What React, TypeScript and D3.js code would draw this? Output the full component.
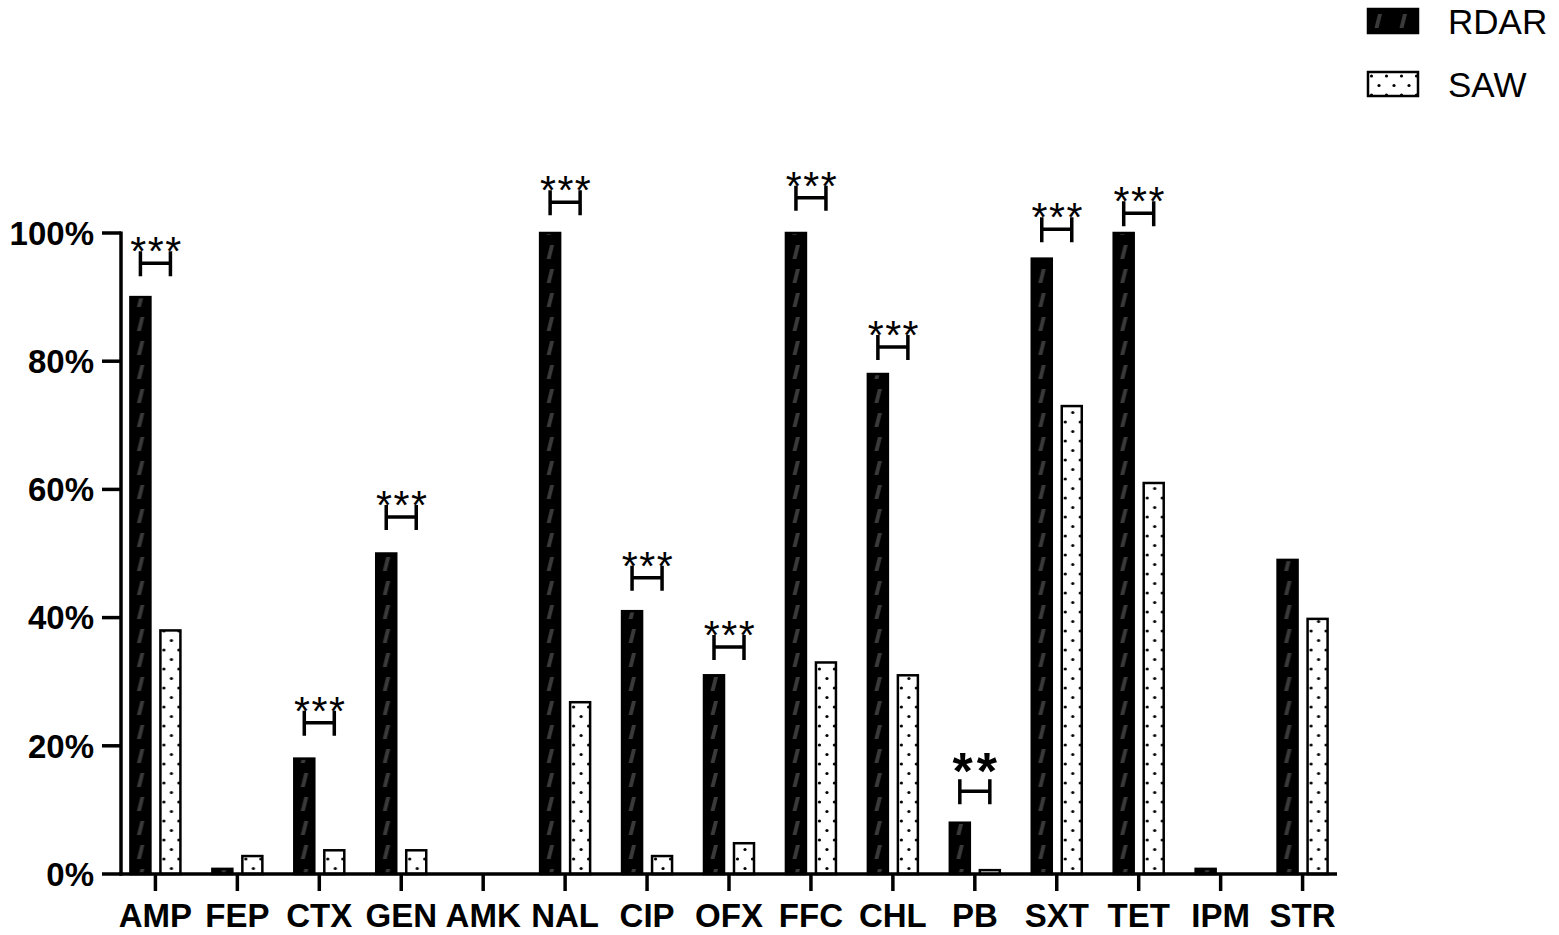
import React, { useEffect, useRef } from 'react';
import * as d3 from 'd3';

// antibiotics on the x axis
const drugs = ['AMP', 'FEP', 'CTX', 'GEN', 'AMK', 'NAL', 'CIP', 'OFX', 'FFC', 'CHL', 'PB', 'SXT', 'TET', 'IPM', 'STR'];
// resistance rates (%)
const rdar = [90, 0.8, 18, 50, 0, 100, 41, 31, 100, 78, 8, 96, 100, 0.8, 49];
const saw = [38, 2.8, 3.7, 3.7, 0, 26.8, 2.8, 4.8, 33, 31, 0.6, 73, 61, 0, 39.8];
const yTicks = [0, 20, 40, 60, 80, 100];

// significance brackets
const sigDrugs = ['AMP', 'CTX', 'GEN', 'NAL', 'CIP', 'OFX', 'FFC', 'CHL', 'PB', 'SXT', 'TET'];
const sigLevels = [95.3, 23.6, 55.7, 104.8, 46.2, 35.4, 105.5, 82.2, 12.9, 100.6, 103.1];
const sigLabels = ['***', '***', '***', '***', '***', '***', '***', '***', '**', '***', '***'];

const seriesNames = ['RDAR', 'SAW'];

export default function App() {
  const svgRef = useRef<SVGSVGElement>(null);

  useEffect(() => {
    const W = 1559;
    const H = 935;
    const left = 121;
    const right = 1337;
    const top = 233;
    const bottom = 874;
    const font = 'Arial, "Liberation Sans", sans-serif';

    const svg = d3.select(svgRef.current)
      .attr('width', W)
      .attr('height', H);
    svg.selectAll('*').remove();

    const defs = svg.append('defs');
    // dark bars: black with grey slashes
    const pr = defs.append('pattern')
      .attr('id', 'pat-rdar')
      .attr('patternUnits', 'userSpaceOnUse')
      .attr('width', 25).attr('height', 24);
    pr.append('rect').attr('width', 25).attr('height', 24).attr('fill', '#000');
    pr.append('polygon').attr('points', '6.5,19 10.5,19 14,5 10,5').attr('fill', '#3a3a3a');
    // light bars: white with dots
    const ps = defs.append('pattern')
      .attr('id', 'pat-saw')
      .attr('patternUnits', 'userSpaceOnUse')
      .attr('width', 15).attr('height', 19);
    ps.append('rect').attr('width', 15).attr('height', 19).attr('fill', '#fff');
    ps.append('circle').attr('cx', 3.5).attr('cy', 4).attr('r', 1.6).attr('fill', '#000');
    ps.append('circle').attr('cx', 11).attr('cy', 13.5).attr('r', 1.6).attr('fill', '#000');

    const x = d3.scalePoint<string>()
      .domain(drugs)
      .range([left, right])
      .padding(0.42);
    const y = d3.scaleLinear()
      .domain([0, 100])
      .range([bottom, top]);

    const barW = 20;
    const gap = 5;

    // bars
    const groups = [rdar, saw];
    groups.forEach((vals, si) => {
      svg.append('g')
        .selectAll('g')
        .data(vals.map((v, i) => ({ v, d: drugs[i] })).filter(o => o.v > 0))
        .join('g')
          .attr('transform', o => {
            const cx = x(o.d)!;
            const bx = si === 0 ? cx - gap - barW : cx + gap;
            return `translate(${bx},0)`;
          })
        .append('rect')
          .attr('x', 0)
          .attr('y', o => y(o.v))
          .attr('width', barW)
          .attr('height', o => bottom - y(o.v))
          .attr('fill', si === 0 ? 'url(#pat-rdar)' : 'url(#pat-saw)')
          .attr('stroke', '#000')
          .attr('stroke-width', 2.5);
    });

    // y axis
    const yAxis = svg.append('g');
    yAxis.append('line')
      .attr('x1', left).attr('x2', left)
      .attr('y1', top - 1.5).attr('y2', bottom + 1.5)
      .attr('stroke', '#000').attr('stroke-width', 3.5);
    yAxis.selectAll('.yt')
      .data(yTicks)
      .join('line')
        .attr('x1', left - 19).attr('x2', left)
        .attr('y1', d => y(d)).attr('y2', d => y(d))
        .attr('stroke', '#000').attr('stroke-width', 3.5);
    yAxis.selectAll('text')
      .data(yTicks)
      .join('text')
        .attr('x', 94)
        .attr('y', d => y(d))
        .attr('dy', '0.36em')
        .attr('text-anchor', 'end')
        .attr('font-family', font)
        .attr('font-weight', 'bold')
        .attr('font-size', 33)
        .text(d => d + '%');

    // x axis
    const xAxis = svg.append('g');
    xAxis.append('line')
      .attr('x1', left - 1.5).attr('x2', right)
      .attr('y1', bottom).attr('y2', bottom)
      .attr('stroke', '#000').attr('stroke-width', 3.5);
    xAxis.selectAll('.xt')
      .data(drugs)
      .join('line')
        .attr('x1', d => x(d)!).attr('x2', d => x(d)!)
        .attr('y1', bottom).attr('y2', bottom + 17)
        .attr('stroke', '#000').attr('stroke-width', 3.5);
    xAxis.selectAll('text')
      .data(drugs)
      .join('text')
        .attr('x', d => x(d)!)
        .attr('y', 927)
        .attr('text-anchor', 'middle')
        .attr('font-family', font)
        .attr('font-weight', 'bold')
        .attr('font-size', 33)
        .text(d => d);

    // significance brackets
    const sig = svg.append('g')
      .selectAll('g')
      .data(sigDrugs.map((d, i) => ({ d, lv: sigLevels[i], lab: sigLabels[i] })))
      .join('g');
    sig.each(function (o) {
      const g = d3.select(this);
      const cx = x(o.d)!;
      const x1 = cx - gap - barW / 2;
      const x2 = cx + gap + barW / 2;
      const yy = y(o.lv);
      g.append('path')
        .attr('d', `M${x1},${yy - 12}V${yy + 13}M${x1},${yy}H${x2}M${x2},${yy - 12}V${yy + 13}`)
        .attr('fill', 'none')
        .attr('stroke', '#000')
        .attr('stroke-width', 3.5);
      const big = o.lab.length === 2;
      g.append('text')
        .attr('x', cx + (big ? 2 : 1))
        .attr('y', big ? yy - 2 : yy + 2)
        .attr('text-anchor', 'middle')
        .attr('font-family', font)
        .attr('font-weight', big ? 'bold' : 'normal')
        .attr('font-size', big ? 52 : 41)
        .attr('letter-spacing', big ? 4 : 1.5)
        .text(o.lab);
    });

    // legend
    const leg = svg.append('g')
      .selectAll('g')
      .data(seriesNames)
      .join('g')
        .attr('transform', (d, i) => `translate(1368,${9 + i * 63})`);
    leg.append('rect')
      .attr('width', 50).attr('height', 24)
      .attr('fill', (d, i) => i === 0 ? 'url(#pat-rdar)' : 'url(#pat-saw)')
      .attr('stroke', '#000').attr('stroke-width', 2.5);
    leg.append('text')
      .attr('x', 80)
      .attr('y', 12)
      .attr('dy', '0.36em')
      .attr('font-family', font)
      .attr('font-size', 35)
      .text(d => d);
  }, []);

  return (
    <svg ref={svgRef} style={{ position: 'absolute', left: 0, top: 0, display: 'block' }}></svg>
  );
}
